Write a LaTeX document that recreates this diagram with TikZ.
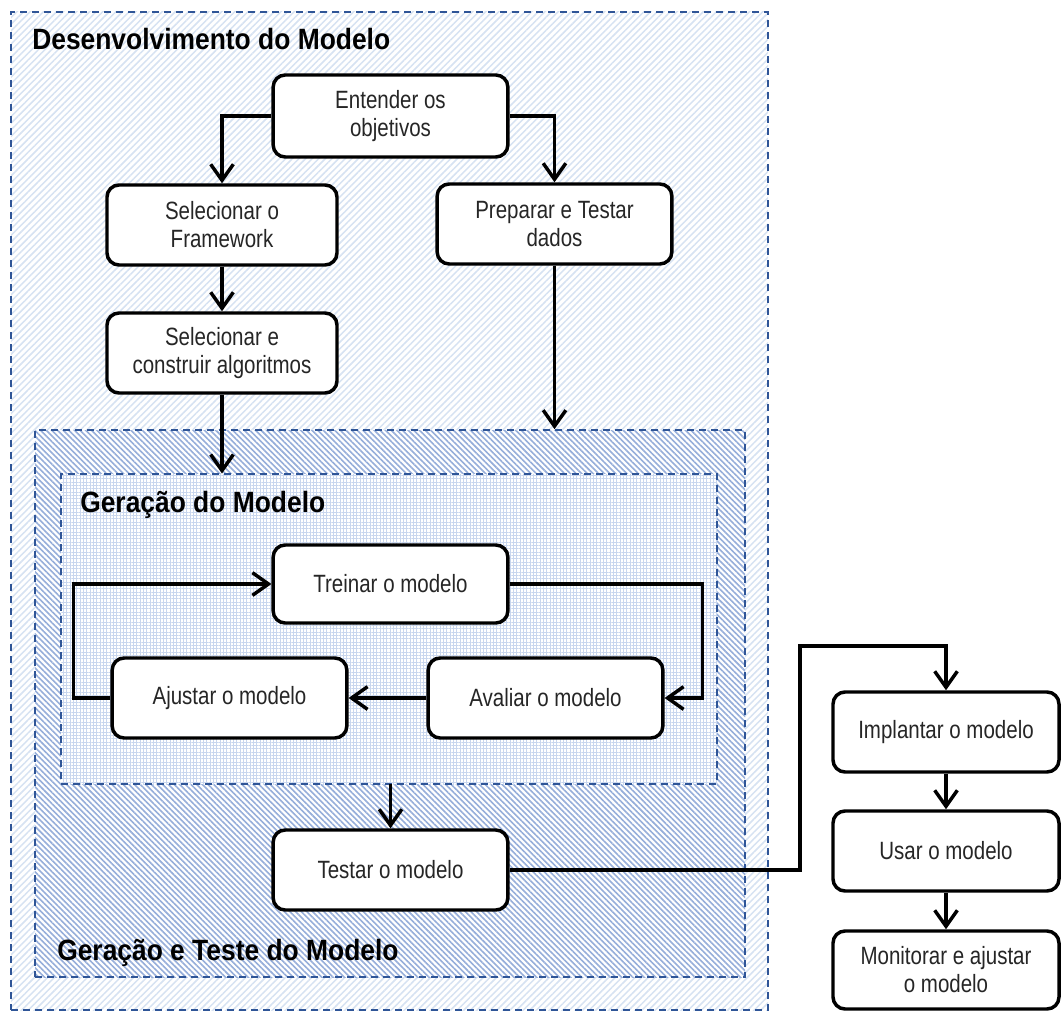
\documentclass[tikz,border=0pt]{standalone}
\usepackage{fontspec}
\setmainfont{Liberation Sans}[FakeStretch=0.82]
\newfontfamily\titlefont{Liberation Sans}[FakeStretch=0.9]
\usetikzlibrary{arrows.meta,patterns.meta}

\definecolor{frameblue}{RGB}{47,85,151}
\definecolor{hatchlight}{RGB}{214,226,242}
\definecolor{hatchmid}{RGB}{150,174,218}
\definecolor{hatchinner}{RGB}{200,214,238}

\begin{document}
\begin{tikzpicture}[
    x=0.75pt, y=-0.75pt,
    etapa/.style={rectangle, draw, line width=2.6pt, rounded corners=9pt, fill=white, text=black!85,
        align=center, minimum width=176pt, minimum height=60pt,
        font=\fontsize{18.75}{21}\selectfont},
    grupo/.style={rectangle, draw=frameblue, line width=1.9pt, dash pattern=on 5.5pt off 3.5pt,
        preaction={fill=white}, inner sep=0pt},
    titulo/.style={anchor=base west, inner sep=0pt, font=\titlefont\bfseries\fontsize{22}{26}\selectfont},
    seta/.style={line width=2.6pt, -{Straight Barb[length=12pt,width=17pt]}},
]

\useasboundingbox (0,0) rectangle (1062,1012);

% caixas de grupo
\node[grupo, pattern={Lines[angle=45,distance=3.5pt,line width=1.1pt]}, pattern color=hatchlight,
    minimum width=567.75pt, minimum height=748.5pt] (desenv) at (389.5,511) {};
\node[grupo, pattern={Lines[angle=-45,distance=3pt,line width=1.2pt]}, pattern color=hatchmid,
    minimum width=532.5pt, minimum height=410.25pt] (teste) at (390,703.5) {};
\node[grupo, pattern={Hatch[angle=0,distance=2.5pt,line width=0.7pt]}, pattern color=hatchinner,
    minimum width=492pt, minimum height=232.5pt] (geracao) at (389,629) {};

\node[titulo] (tdesenv) at (32,50) {Desenvolvimento do Modelo};
\node[titulo] (tgeracao) at (80,512) {Geração do Modelo};
\node[titulo] (tteste) at (57,960) {Geração e Teste do Modelo};

% etapas
\node[etapa, minimum height=61.5pt] (objetivos) at (390.5,116) {Entender os\\objetivos};
\node[etapa, minimum width=172.5pt] (framework) at (222,225) {Selecionar o\\Framework};
\node[etapa] (dados) at (554.5,224) {Preparar e Testar\\dados};
\node[etapa, minimum width=172.5pt] (algoritmos) at (222,353) {Selecionar e\\construir algoritmos};
\node[etapa, minimum height=58.5pt] (treinar) at (390.5,584) {Treinar o modelo};
\node[etapa] (ajustar) at (229.5,698) {Ajustar o modelo};
\node[etapa] (avaliar) at (545.5,698) {Avaliar o modelo};
\node[etapa] (testar) at (390.5,870) {Testar o modelo};
\node[etapa, minimum width=169.5pt] (implantar) at (946,732) {Implantar o modelo};
\node[etapa, minimum width=169.5pt] (usar) at (946,851) {Usar o modelo};
\node[etapa, minimum width=169.5pt, minimum height=58.5pt] (monitorar) at (946,970) {Monitorar e ajustar\\o modelo};

\coordinate (desvio) at (800,646);

% setas
\draw[seta] (objetivos.west) -| (framework.north);
\draw[seta] (objetivos.east) -| (dados.north);
\draw[seta] (framework) -- (algoritmos);
\draw[seta] (algoritmos) -- (algoritmos |- geracao.north);
\draw[seta] (dados) -- (dados |- teste.north);
\draw[seta] (treinar.east) -- ++(193,0) |- (avaliar.east);
\draw[seta] (avaliar) -- (ajustar);
\draw[seta] (ajustar.west) -- ++(-37,0) |- (treinar.west);
\draw[seta] (geracao.south -| testar) -- (testar);
\draw[seta] (testar.east) -| (desvio) -| (implantar.north);
\draw[seta] (implantar) -- (usar);
\draw[seta] (usar) -- (monitorar);

\end{tikzpicture}
\end{document}
